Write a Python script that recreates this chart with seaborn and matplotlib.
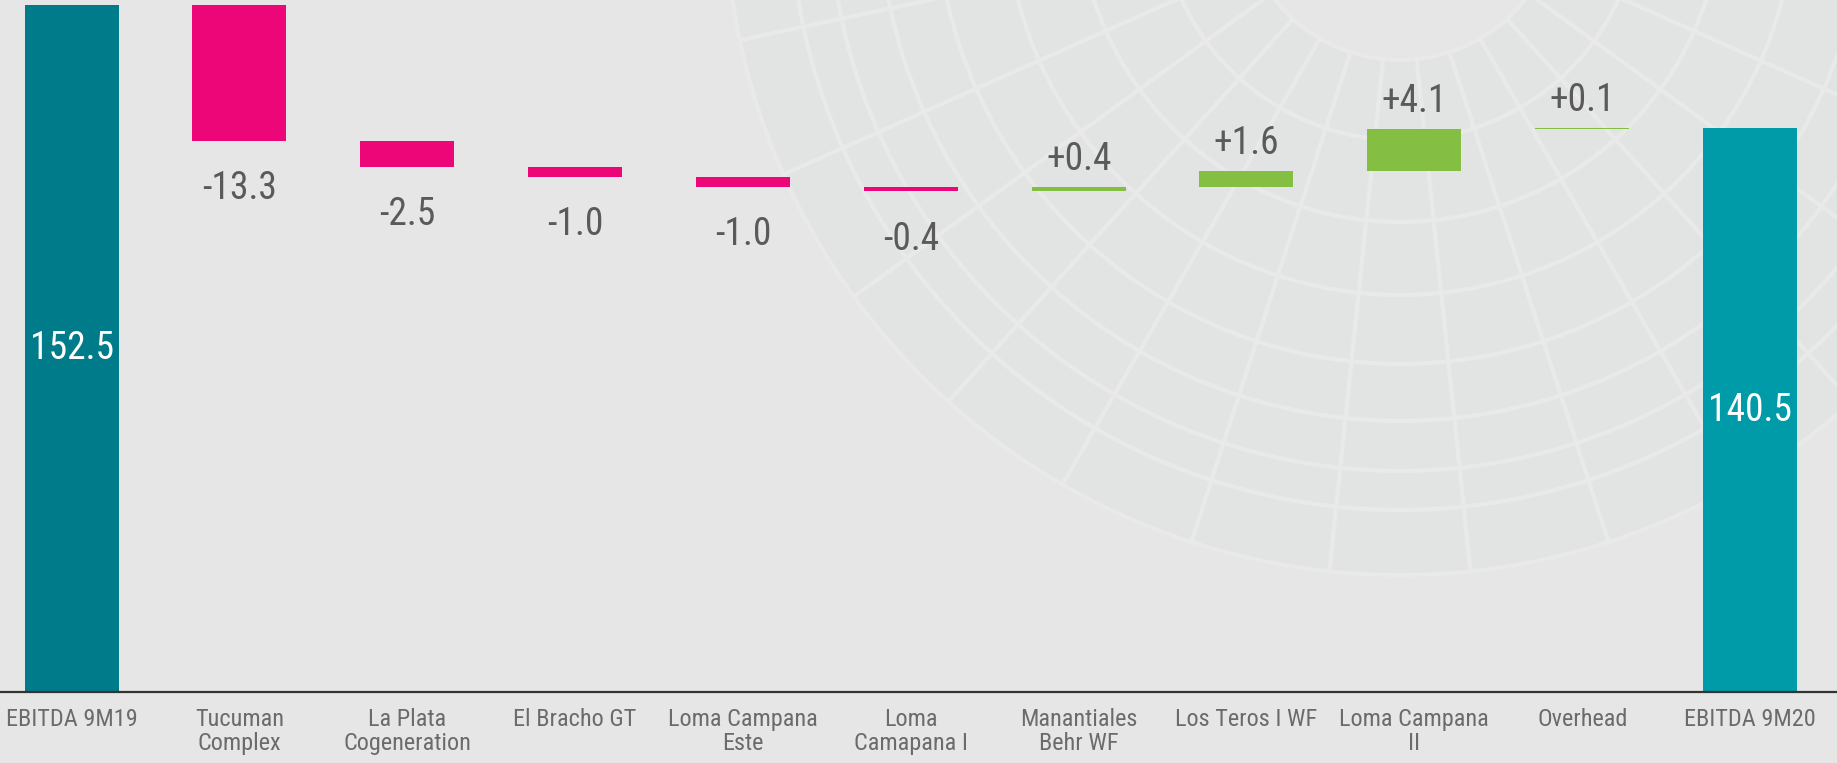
import numpy as np
import pandas as pd
import matplotlib
matplotlib.use("Agg")
import matplotlib.pyplot as plt
from matplotlib.patches import Wedge
from matplotlib import font_manager
import seaborn as sns

# ---------------- data ----------------
categories = ["EBITDA 9M19", "Tucuman\nComplex", "La Plata\nCogeneration", "El Bracho GT",
              "Loma Campana\nEste", "Loma\nCamapana I", "Manantiales\nBehr WF",
              "Los Teros I WF", "Loma Campana\nII", "Overhead", "EBITDA 9M20"]
start_total = 152.5
changes = [-13.3, -2.5, -1.0, -1.0, -0.4, 0.4, 1.6, 4.1, 0.1]
end_total = 140.5

# ---------------- style ----------------
color_start = "#007b89"
color_end = "#009ba8"
color_neg = "#ec0677"
color_pos = "#84bf43"
bg_color = "#e6e6e6"
value_color = "#5a5a5a"
cat_color = "#6b6b6b"

avail = {f.name for f in font_manager.fontManager.ttflist}
family = next((f for f in ["Liberation Sans Narrow", "Roboto Condensed", "Liberation Sans"]
               if f in avail), "DejaVu Sans")

sns.set_style("white")
plt.rcParams["font.family"] = [family, "DejaVu Sans"]

# ---------------- waterfall geometry from values ----------------
bottoms, heights, colors, labels = [0.0], [start_total], [color_start], [f"{start_total:.1f}"]
running = start_total
for c in changes:
    new = running + c
    bottoms.append(min(running, new))
    heights.append(abs(c))
    colors.append(color_neg if c < 0 else color_pos)
    labels.append(f"{c:+.1f}")
    running = new
bottoms.append(0.0)
heights.append(end_total)
colors.append(color_end)
labels.append(f"{end_total:.1f}")

df = pd.DataFrame({"category": categories, "height": heights})

W, H = 1837, 763
fig = plt.figure(figsize=(W / 100, H / 100), dpi=100, facecolor=bg_color)

# decorative watermark rings (background)
bg = fig.add_axes([0, 0, 1, 1], zorder=0)
bg.set_xlim(0, W)
bg.set_ylim(0, H)
bg.axis("off")
cx, cy = 1400, H + 100
radii = [160, 240, 322, 395, 464, 521, 571, 610, 675]
for r_in, r_out in zip(radii[:-1], radii[1:]):
    for a in range(180, 360, 12):
        bg.add_patch(Wedge((cx, cy), r_out, a, a + 12, width=r_out - r_in,
                           facecolor="#e2e3e3", edgecolor="#e9e9e9", linewidth=3))

y_bottom, y_top = 85.4, 152.96
ax = fig.add_axes([0, (H - 692.4) / H, 1, 692.4 / H], zorder=1)
ax.set_facecolor("none")

sns.barplot(data=df, x="category", y="height", order=categories, bottom=bottoms,
            width=0.56, color=color_start, errorbar=None, linewidth=0, ax=ax)
for patch, col in zip(ax.patches, colors):
    patch.set_facecolor(col)
    patch.set_edgecolor("none")

ax.set_ylim(y_bottom, y_top)
ax.set_xlim(-0.426, 10.518)
ax.set_yticks([])
ax.set_xlabel("")
ax.set_ylabel("")
ax.set_xticks(range(len(categories)))
ax.set_xticklabels(categories, fontsize=17.5, color=cat_color, linespacing=1.1)
ax.tick_params(axis="x", length=0, pad=11)
sns.despine(ax=ax, left=True)
ax.spines["bottom"].set_color("#333333")
ax.spines["bottom"].set_linewidth(1.6)
ax.spines["bottom"].set_zorder(5)

# value labels
n = len(categories)
for i in range(n):
    if i == 0 or i == n - 1:
        ax.text(i, (y_bottom + heights[i]) / 2, labels[i], ha="center", va="center",
                color="white", fontsize=27)
    else:
        c = changes[i - 1]
        if c < 0:
            ax.annotate(labels[i], xy=(i, bottoms[i]), xytext=(0, -42),
                        textcoords="offset points", ha="center", va="baseline",
                        color=value_color, fontsize=27)
        else:
            ax.annotate(labels[i], xy=(i, bottoms[i] + heights[i]), xytext=(0, 12),
                        textcoords="offset points", ha="center", va="baseline",
                        color=value_color, fontsize=27)

fig.savefig("out.png", dpi=100, facecolor=fig.get_facecolor())
